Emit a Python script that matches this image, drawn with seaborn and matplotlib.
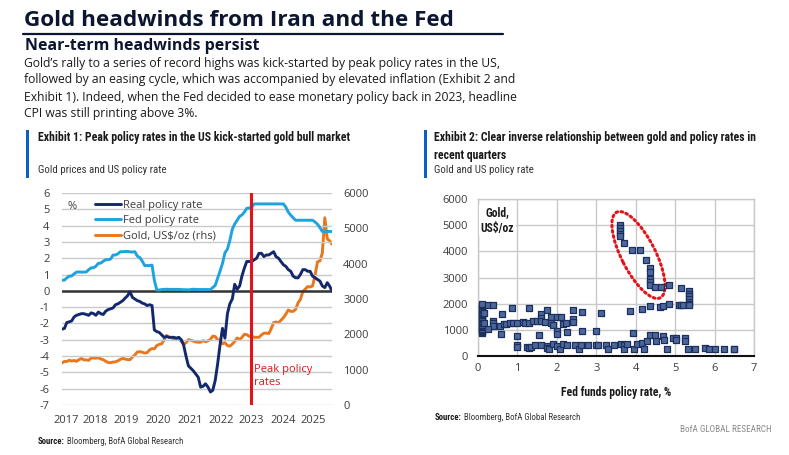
import pandas as pd
import numpy as np
import matplotlib
matplotlib.use("Agg")
import matplotlib.pyplot as plt
import matplotlib.font_manager as fm
from matplotlib.patches import Rectangle, Ellipse
from matplotlib.lines import Line2D
from matplotlib.transforms import ScaledTranslation
import seaborn as sns

# ---- Exhibit 1: monthly, Jan 2017 onwards ----
dates = pd.date_range("2017-01-01", periods=112, freq="MS")

real_rate = [-2.35, -2.3, -1.95, -1.9, -1.85, -1.6, -1.5, -1.45, -1.4, -1.4, -1.45, -1.5,
             -1.35, -1.4, -1.5, -1.3, -1.4, -1.45, -1.25, -1.15, -1.1, -1.05, -0.85, -0.8,
             -0.7, -0.6, -0.45, -0.3, -0.05, -0.4, -0.5, -0.6, -0.65, -0.75, -0.8, -0.9,
             -0.85, -0.9, -2.4, -2.5, -2.55, -2.7, -2.85, -2.8, -2.85, -2.85, -2.85, -2.9,
             -2.85, -3.0, -3.3, -4.0, -4.6, -4.75, -4.9, -5.1, -5.3, -5.9, -5.85, -5.7,
             -5.9, -6.2, -6.1, -5.5, -4.5, -3.3, -2.3, -2.9, -1.4, -0.8, -0.5, 0.4,
             0.1, 0.3, 0.9, 1.4, 1.8, 1.8, 1.8, 1.9, 2.0, 2.3, 2.3, 2.1,
             2.2, 2.2, 2.3, 2.4, 2.1, 2.0, 1.8, 1.6, 1.5, 1.3, 1.2, 0.9,
             0.8, 0.8, 1.0, 1.3, 1.3, 1.2, 1.2, 0.9, 0.8, 0.7, 0.6, 0.3,
             0.2, 0.5, 0.3, 0.0]

fed_rate = [0.65, 0.66, 0.79, 0.90, 0.91, 1.04, 1.15, 1.16, 1.15, 1.15, 1.16, 1.30,
            1.41, 1.42, 1.51, 1.69, 1.70, 1.82, 1.91, 1.91, 1.95, 2.19, 2.20, 2.27,
            2.40, 2.40, 2.41, 2.42, 2.39, 2.38, 2.40, 2.13, 2.04, 1.83, 1.55, 1.55,
            1.55, 1.58, 0.65, 0.05, 0.05, 0.08, 0.09, 0.10, 0.09, 0.09, 0.09, 0.09,
            0.09, 0.08, 0.07, 0.07, 0.06, 0.08, 0.10, 0.09, 0.08, 0.08, 0.08, 0.08,
            0.08, 0.08, 0.20, 0.33, 0.77, 1.21, 1.68, 2.33, 2.56, 3.08, 3.78, 4.10,
            4.33, 4.57, 4.65, 4.83, 5.06, 5.08, 5.12, 5.33, 5.33, 5.33, 5.33, 5.33,
            5.33, 5.33, 5.33, 5.33, 5.33, 5.33, 5.33, 5.33, 5.13, 4.83, 4.64, 4.48,
            4.33, 4.33, 4.33, 4.33, 4.33, 4.33, 4.33, 4.33, 4.22, 4.09, 3.88, 3.64,
            3.64, 3.64, 3.64, 3.64]

gold = [1192, 1234, 1231, 1266, 1246, 1260, 1236, 1283, 1315, 1279, 1275, 1265,
        1331, 1331, 1325, 1335, 1303, 1282, 1238, 1202, 1198, 1215, 1221, 1250,
        1291, 1320, 1300, 1285, 1283, 1359, 1413, 1500, 1510, 1495, 1471, 1480,
        1560, 1597, 1591, 1683, 1715, 1732, 1846, 1968, 1921, 1900, 1866, 1858,
        1867, 1808, 1718, 1760, 1850, 1834, 1807, 1785, 1775, 1777, 1821, 1790,
        1817, 1856, 1948, 1937, 1849, 1835, 1732, 1765, 1681, 1665, 1726, 1798,
        1898, 1855, 1913, 1999, 1992, 1942, 1951, 1918, 1916, 1916, 1985, 2030,
        2034, 2023, 2158, 2330, 2351, 2326, 2398, 2470, 2571, 2690, 2650, 2650,
        2709, 2895, 2983, 3210, 3280, 3350, 3340, 3370, 3665, 4050, 4080, 4300,
        5300, 4700, 4650, 4550]

year_labels = ["2017", "2018", "2019", "2020", "2021", "2022", "2023", "2024", "2025"]
year_label_dates = ["2017-02-18", "2018-02-15", "2019-03-18", "2020-04-18", "2021-05-25",
                    "2022-06-20", "2023-06-20", "2024-07-25", "2025-08-10"]
peak_date = "2023-06-20"

# ---- Exhibit 2: Fed funds rate (%) vs gold (US$/oz) ----
fed_funds = [0.1] * 24 + [0.15, 0.15,
             0.25, 0.38, 0.38, 0.38, 0.38, 0.25, 0.55, 0.58, 0.6, 0.65, 0.72, 0.8, 0.9, 0.85,
             1.0, 1.0, 1.0, 1.0, 1.13, 1.2, 1.3, 1.3, 1.4, 1.5, 1.25, 1.3, 1.35, 1.45, 1.55,
             1.6, 1.6, 1.6, 1.6, 1.75, 1.7, 1.75, 1.75, 1.8, 1.85, 1.85, 1.9, 1.9,
             2.0, 2.1, 2.0, 2.0, 2.0, 2.07, 2.15, 2.22, 2.25, 2.15, 2.25, 2.4, 2.4, 2.4,
             2.45, 2.55, 2.6, 2.65, 2.65, 2.8, 3.0, 3.0, 3.05, 3.12, 3.25, 3.3, 3.45,
             3.6, 3.6, 3.6, 3.6, 3.6, 3.62, 3.7, 3.7, 3.7, 3.78, 3.85, 3.9, 3.92, 3.95,
             4.02, 4.1, 4.15, 4.15, 4.22, 4.25, 4.28, 4.35, 4.35, 4.35, 4.35, 4.35, 4.35,
             4.35, 4.5, 4.5, 4.52, 4.65, 4.62, 4.7, 4.7, 4.72, 4.8, 4.85, 4.85, 4.95,
             5.02, 5.02, 5.1, 5.15, 5.2, 5.15, 5.25, 5.25, 5.32, 5.35, 5.35, 5.35, 5.35,
             5.35, 5.35, 5.35, 5.5, 5.75, 5.85, 6.0, 6.25, 6.5, 6.5]
gold_oz = [860, 900, 950, 1000, 1050, 1100, 1150, 1200, 1250, 1300, 1350, 1400,
           1450, 1500, 1550, 1600, 1650, 1700, 1750, 1800, 1850, 1900, 1950, 2000,
           1250, 1650,
           1950, 1950, 1350, 1250, 1150, 1050, 1150, 850, 1600, 1220, 1230, 1250, 1250, 1850,
           1260, 760, 420, 350, 1300, 1250, 1850, 1270, 1320, 1320, 350, 310, 360, 410, 800,
           1600, 1450, 1320, 420, 1750, 1300, 400, 300, 270, 1500, 1250, 1200, 440,
           1500, 1500, 950, 850, 400, 280, 1210, 1260, 900, 450, 420, 1750, 1400, 1300,
           420, 280, 420, 950, 1680, 420, 940, 420, 420, 1660, 420, 270, 430,
           5000, 4900, 4780, 4680, 4580, 440, 420, 270, 4300, 440, 1720, 4050, 870, 270,
           460, 4050, 1800, 500, 260, 3650, 560, 3350, 3220, 2950, 2830, 2700, 1900,
           800, 2640, 800, 560, 2650, 1860, 1900, 760, 620, 260, 2700, 2000, 700,
           700, 600, 1960, 1950, 1940, 2580, 680, 580, 260, 2480, 2380, 2280, 2180,
           2080, 1990, 1930, 260, 290, 260, 260, 260, 280, 250]

W, H = 789, 455
NAVY = "#13296b"
LIGHT_BLUE = "#1fa3de"
ORANGE = "#e8771e"
RED = "#e3131b"
BAR_BLUE = "#0a5ec4"
TXT = "#1a1a1a"
TICK = "#3c3c3c"
GRID = "#c9c9c9"

sns.set_style("white")
names = {f.name for f in fm.fontManager.ttflist}
narrow = next((n for n in ["Liberation Sans Narrow", "Roboto Condensed", "Open Sans Condensed"]
               if n in names), "Open Sans")
plt.rcParams["font.family"] = ["Open Sans", "DejaVu Sans"]
plt.rcParams["axes.unicode_minus"] = False


def fx(x):
    return x / W


def fy(y):
    return 1 - y / H


fig = plt.figure(figsize=(W / 100, H / 100), dpi=100)
fig.patch.set_facecolor("white")

# header text
fig.text(fx(24), fy(20), "Gold headwinds from Iran and the Fed", fontsize=16.2, fontweight="bold",
         color="#0c1630", va="center", ha="left")
fig.add_artist(Line2D([fx(23), fx(503)], [fy(34), fy(34)], color="#0c1630", lw=1.6))
fig.text(fx(25), fy(46), "Near-term headwinds persist", fontsize=11.5, fontweight="bold",
         color="#0c1630", va="center", ha="left")
para = ["Gold\u2019s rally to a series of record highs was kick-started by peak policy rates in the US,",
        "followed by an easing cycle, which was accompanied by elevated inflation (Exhibit 2 and",
        "Exhibit 1). Indeed, when the Fed decided to ease monetary policy back in 2023, headline",
        "CPI was still printing above 3%."]
for i, line in enumerate(para):
    fig.text(fx(24), fy(63 + 17 * i), line, fontsize=8.75, color=TXT, va="center", ha="left")

# exhibit headers
for x0 in (26, 424):
    fig.add_artist(Rectangle((fx(x0), fy(178)), 3 / W, 48 / H, transform=fig.transFigure,
                             color=BAR_BLUE, lw=0))
fig.text(fx(38), fy(138), "Exhibit 1: Peak policy rates in the US kick-started gold bull market",
         fontsize=8.45, fontweight="bold", family=narrow, color=TXT, va="center")
fig.text(fx(38), fy(170), "Gold prices and US policy rate", fontsize=7.8, family=narrow,
         color="#333333", va="center")
fig.text(fx(434), fy(138), "Exhibit 2: Clear inverse relationship between gold and policy rates in",
         fontsize=8.5, fontweight="bold", family=narrow, color=TXT, va="center")
fig.text(fx(434), fy(155), "recent quarters", fontsize=8.5, fontweight="bold", family=narrow,
         color=TXT, va="center")
fig.text(fx(434), fy(170), "Gold and US policy rate", fontsize=7.8, family=narrow,
         color="#333333", va="center")

# ---- left chart ----
df = pd.DataFrame({"date": dates, "real": real_rate, "fed": fed_rate, "gold": gold})

ax = fig.add_axes([fx(62), fy(405), (332 - 62) / W, (405 - 193) / H])
ax2 = ax.twinx()
ax.set_zorder(ax2.get_zorder() + 1)
ax.patch.set_visible(False)

ax.yaxis.grid(True, color=GRID, lw=1)
ax.axhline(0, color="#333333", lw=1.8, zorder=1)
sns.lineplot(data=df, x="date", y="fed", ax=ax, color=LIGHT_BLUE, lw=2.1, label="Fed policy rate")
sns.lineplot(data=df, x="date", y="real", ax=ax, color=NAVY, lw=2.1, label="Real policy rate")
sns.lineplot(data=df, x="date", y="gold", ax=ax2, color=ORANGE, lw=2.1, label="Gold, US$/oz (rhs)")
ax.axvline(pd.Timestamp(peak_date), color=RED, lw=2.2, zorder=5)
ax.annotate("Peak policy\nrates", xy=(pd.Timestamp(peak_date), -5.2), xytext=(2.5, 0),
            textcoords="offset points", ha="left", va="center", color=RED, fontsize=8,
            linespacing=1.25)

for a in (ax, ax2):
    if a.get_legend() is not None:
        a.get_legend().remove()
    a.set_xlabel("")
    a.set_ylabel("")
    for s in a.spines.values():
        s.set_visible(False)
    a.tick_params(length=0, labelsize=8, labelcolor=TICK)

ax.set_xlim(dates[0], dates[-1])
ax.set_ylim(-7, 6)
ax.set_yticks(range(-7, 7))
ax2.set_ylim(0, 6000)
ax2.set_yticks(range(0, 6001, 1000))
ax.tick_params(axis="y", pad=9)
ax2.tick_params(axis="y", pad=8)
ax.set_xticks(pd.to_datetime(year_label_dates))
ax.set_xticklabels(year_labels)
ax.tick_params(axis="x", pad=7)

handles = [Line2D([], [], color=NAVY, lw=2.1), Line2D([], [], color=LIGHT_BLUE, lw=2.1),
           Line2D([], [], color=ORANGE, lw=2.1)]
ax.legend(handles, ["Real policy rate", "Fed policy rate", "Gold, US$/oz (rhs)"],
          loc="upper left", bbox_to_anchor=((95 - 62) / 270, 1 - 7 / 212), frameon=False,
          fontsize=8, handlelength=2.3, handletextpad=0.2, labelspacing=0.38,
          borderaxespad=0, borderpad=0, labelcolor=TICK)
fig.text(fx(67), fy(207), "%", fontsize=8, color=TICK, va="center")


def source_note(x, y):
    head = fig.text(fx(x), fy(y), "Source:", fontsize=6.3, fontweight="bold", family=narrow,
                    color=TXT, va="center")
    ax.annotate(" Bloomberg, BofA Global Research", xy=(1, 0.5), xycoords=head, va="center",
                ha="left", fontsize=6.3, family=narrow, color="#333333", annotation_clip=False)


source_note(38, 441)

# ---- right chart ----
ax3 = fig.add_axes([fx(478), fy(356), (754 - 478) / W, (356 - 199) / H])
ax3.grid(True, color=GRID, lw=1)
ax3.set_axisbelow(True)
sns.scatterplot(x=fed_funds, y=gold_oz, ax=ax3, marker="s", s=16, color="#4d6898",
                edgecolor="#1b2f60", linewidth=0.9, zorder=3)
ax3.set_xlim(0, 7)
ax3.set_ylim(0, 6000)
ax3.set_xticks(range(0, 8))
ax3.set_yticks(range(0, 6001, 1000))
for side in ("top", "right", "left"):
    ax3.spines[side].set_color(GRID)
    ax3.spines[side].set_linewidth(1)
ax3.spines["bottom"].set_color("#111111")
ax3.spines["bottom"].set_linewidth(1.5)
ax3.tick_params(length=0, labelsize=8, labelcolor=TICK)
ax3.tick_params(axis="y", pad=7)
ax3.tick_params(axis="x", pad=5)
ax3.set_xlabel("Fed funds policy rate, %", fontsize=8.4, fontweight="bold", color=TXT,
               family=narrow, labelpad=9)
ax3.text(0.07, 0.955, "Gold,\nUS$/oz", transform=ax3.transAxes, ha="center", va="top",
         fontsize=8.4, fontweight="bold", family=narrow, color=TXT, linespacing=1.3,
         bbox=dict(facecolor="white", edgecolor="none", pad=1))

# dotted ellipse around the recent-quarters cluster (size in inches)
ell = Ellipse((0, 0), width=0.96, height=0.34, angle=-63, fill=False, edgecolor=RED, lw=2.2,
              linestyle=(0, (0.6, 1.1)), capstyle="round",
              transform=fig.dpi_scale_trans + ScaledTranslation(4.07, 3860, ax3.transData))
ax3.add_patch(ell)

source_note(435, 418)
fig.text(fx(772), fy(429), "BofA GLOBAL RESEARCH", fontsize=6.6, family=narrow, color="#8a8a8a",
         va="center", ha="right")

fig.savefig("out.png", dpi=100)
